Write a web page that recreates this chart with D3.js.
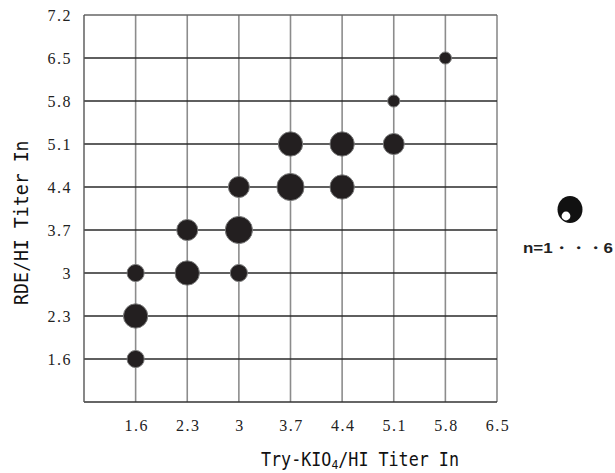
<!DOCTYPE html>
<html>
<head>
<meta charset="utf-8">
<script src="https://cdn.jsdelivr.net/npm/d3@7"></script>
<style>
  body { margin: 0; background: #fff; }
  .tick-label { font-family: "Liberation Serif", "DejaVu Serif", serif; font-size: 16px; fill: #222; letter-spacing: 1.5px; }
  .axis-title { font-family: "DejaVu Sans Mono", "Liberation Mono", monospace; font-size: 19px; fill: #111; }
</style>
</head>
<body>
<script>
// tick values on both axes (ln of HI titer)
const xTicks = [1.6, 2.3, 3, 3.7, 4.4, 5.1, 5.8, 6.5];
const yTicks = [1.6, 2.3, 3, 3.7, 4.4, 5.1, 5.8, 6.5, 7.2];

// bubbles: Try-KIO4 titer, RDE titer, number of samples
const xVals  = [1.6, 1.6, 1.6, 2.3, 2.3, 3, 3,   3,   3.7, 3.7, 4.4, 4.4, 5.1, 5.1, 5.8];
const yVals  = [1.6, 2.3, 3,   3,   3.7, 3, 3.7, 4.4, 4.4, 5.1, 4.4, 5.1, 5.1, 5.8, 6.5];
const counts = [2,   4,   2,   4,   3,   2, 5,   3,   5,   4,   4,   4,   3,   1,   1];

const width = 615, height = 473;
const plotLeft = 84, plotRight = 497, plotTop = 15, plotBottom = 402;

const svg = d3.select("body").append("svg")
    .attr("width", width)
    .attr("height", height);

const x = d3.scaleLinear().domain([0.9, 6.5]).range([plotLeft, plotRight]);
const y = d3.scaleLinear().domain([0.9, 7.2]).range([plotBottom, plotTop]);
const r = d3.scaleSqrt().domain([0, 5]).range([0, 13.6]);

// vertical grid (grey)
svg.append("g").selectAll("line")
    .data(xTicks)
    .join("line")
    .attr("x1", d => x(d)).attr("x2", d => x(d))
    .attr("y1", plotTop).attr("y2", plotBottom)
    .attr("stroke", "#8c8c8c")
    .attr("stroke-width", 1.6);

// horizontal grid (dark)
svg.append("g").selectAll("line")
    .data(yTicks.slice(0, -1))
    .join("line")
    .attr("x1", plotLeft).attr("x2", plotRight)
    .attr("y1", d => y(d)).attr("y2", d => y(d))
    .attr("stroke", "#2a2a2a")
    .attr("stroke-width", 1.4);

// frame
svg.append("line").attr("x1", plotLeft).attr("x2", plotRight).attr("y1", plotTop).attr("y2", plotTop)
    .attr("stroke", "#666").attr("stroke-width", 1.4);
svg.append("line").attr("x1", plotLeft).attr("x2", plotRight).attr("y1", plotBottom).attr("y2", plotBottom)
    .attr("stroke", "#333").attr("stroke-width", 1.4);
svg.append("line").attr("x1", plotLeft).attr("x2", plotLeft).attr("y1", plotTop).attr("y2", plotBottom)
    .attr("stroke", "#555").attr("stroke-width", 1.4);

// tick labels
svg.append("g").selectAll("text")
    .data(yTicks)
    .join("text")
    .attr("class", "tick-label")
    .attr("x", 72)
    .attr("y", d => y(d) + 5.5)
    .attr("text-anchor", "end")
    .text(d => d);

svg.append("g").selectAll("text")
    .data(xTicks)
    .join("text")
    .attr("class", "tick-label")
    .attr("x", d => x(d) + 1)
    .attr("y", 431)
    .attr("text-anchor", "middle")
    .text(d => d);

// bubbles
const points = xVals.map((v, i) => ({x: v, y: yVals[i], n: counts[i]}));
svg.append("g").selectAll("circle")
    .data(points)
    .join("circle")
    .attr("cx", d => x(d.x))
    .attr("cy", d => y(d.y))
    .attr("r", d => r(d.n))
    .attr("fill", "#231f20")
    .attr("stroke", "#7a7a7a")
    .attr("stroke-width", 1);

// axis titles (squeezed horizontally like the original gothic font)
const xt = svg.append("text")
    .attr("class", "axis-title")
    .attr("transform", "translate(261,466) scale(0.88,1)");
xt.append("tspan").text("Try-KIO");
xt.append("tspan").attr("dy", 3).attr("font-size", "13px").text("4");
xt.append("tspan").attr("dy", -3).text("/HI Titer In");

svg.append("text")
    .attr("class", "axis-title")
    .attr("transform", "translate(28,305) rotate(-90) scale(0.96,1)")
    .text("RDE/HI Titer In");

// legend
svg.append("ellipse")
    .attr("cx", 570).attr("cy", 209.5)
    .attr("rx", 12.5).attr("ry", 13.5)
    .attr("fill", "#111");
svg.append("circle")
    .attr("cx", 566).attr("cy", 216)
    .attr("r", 4.4)
    .attr("fill", "#fff");
svg.append("text")
    .attr("x", 568)
    .attr("y", 253)
    .attr("text-anchor", "middle")
    .attr("font-family", "'Liberation Sans', Arial, sans-serif")
    .attr("font-weight", "bold")
    .attr("font-size", "15px")
    .attr("fill", "#222")
    .attr("textLength", 90)
    .attr("lengthAdjust", "spacingAndGlyphs")
    .text("n=1・・・6");
</script>
</body>
</html>
